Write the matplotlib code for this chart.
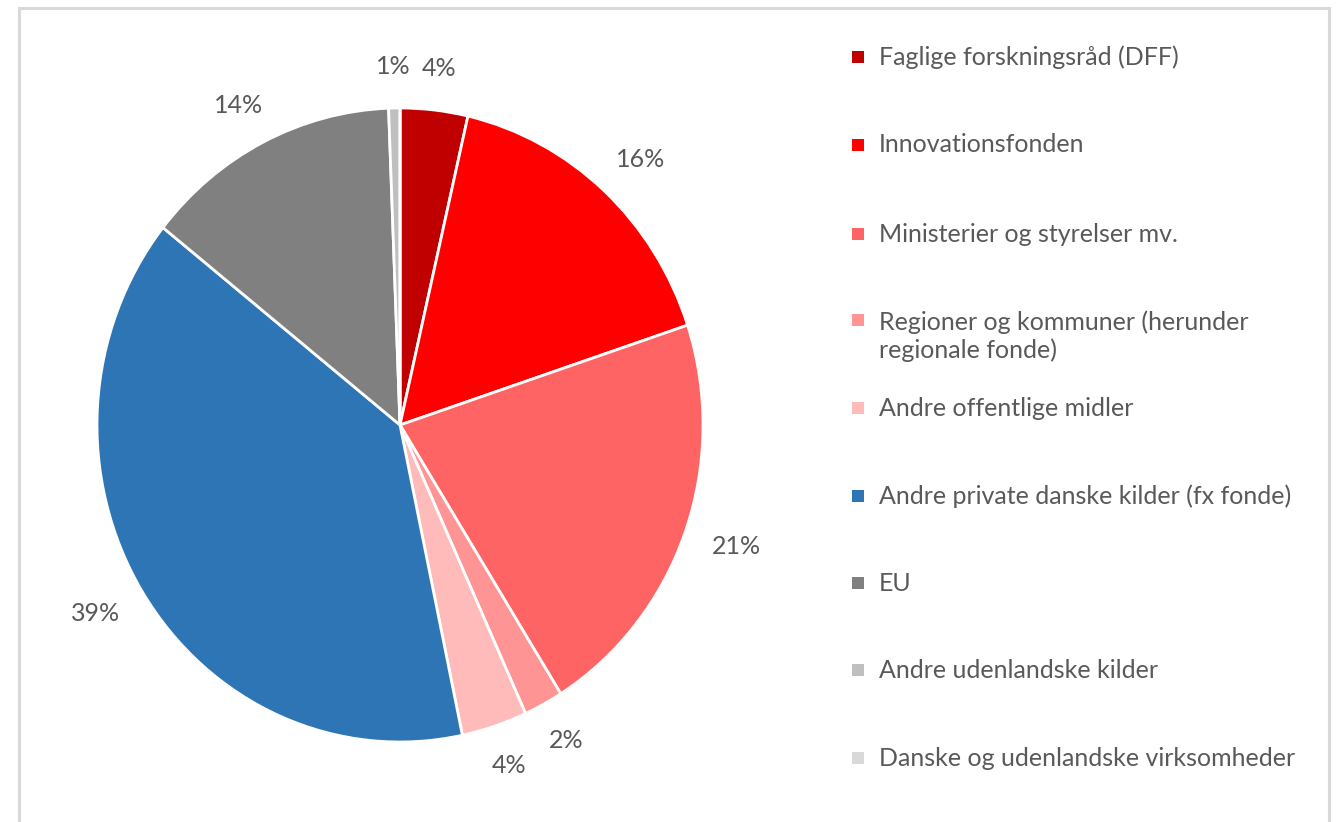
import numpy as np
import matplotlib
matplotlib.use("Agg")
import matplotlib.pyplot as plt
from matplotlib.patches import Rectangle

categories = [
    "Faglige forskningsråd (DFF)",
    "Innovationsfonden",
    "Ministerier og styrelser mv.",
    "Regioner og kommuner (herunder\nregionale fonde)",
    "Andre offentlige midler",
    "Andre private danske kilder (fx fonde)",
    "EU",
    "Andre udenlandske kilder",
    "Danske og udenlandske virksomheder",
]
shares = [3.6, 16.3, 21.2, 2.1, 3.5, 39.0, 13.7, 0.6, 0.0]
colors = ["#C00000", "#FF0000", "#FF6464", "#FF9494", "#FFBABA",
          "#2E75B6", "#808080", "#BFBFBF", "#D9D9D9"]

W, H = 1336, 822
fig = plt.figure(figsize=(W / 100, H / 100), dpi=100)
FONT = "Lato"
TXT = "#595959"
FS = 18

# pie axes (slightly elliptical like the reference)
cx, cy, rx, ry = 400, 425, 303, 317
ax = fig.add_axes([(cx - rx) / W, (H - cy - ry) / H, 2 * rx / W, 2 * ry / H])


def fmt(p):
    return f"{p:.0f}%" if p > 0.05 else ""


wedges, texts, autotexts = ax.pie(
    shares, colors=colors, startangle=90, counterclock=False,
    autopct=fmt, pctdistance=1.16,
    wedgeprops=dict(edgecolor="white", linewidth=2.0),
    textprops=dict(color=TXT, fontsize=FS, family=FONT),
)
ax.set_aspect("auto")
ax.set_xlim(-1, 1)
ax.set_ylim(-1, 1)
ax.axis("off")

# place percentage labels just outside the rim (Excel "outside end" style)
fig.canvas.draw()
renderer = fig.canvas.get_renderer()
gap = 30  # px
for w, t in zip(wedges, autotexts):
    if not t.get_text():
        continue
    th = np.deg2rad((w.theta1 + w.theta2) / 2)
    c, s = np.cos(th), np.sin(th)
    ex, ey = ax.transData.transform((c, s))
    bb = t.get_window_extent(renderer)
    px = ex + c * (gap + bb.width / 2)
    py = ey + s * (gap + bb.height / 2)
    t.set_position(ax.transData.inverted().transform((px, py)))
    t.set_ha("center")
    t.set_va("center")

# legend drawn manually
leg_x_sq = 858
leg_x_txt = 879
leg_y = [57, 145, 234, 336, 408, 496, 583, 670, 758]
for lab, col, y in zip(categories, colors, leg_y):
    ny = lab.count("\n") + 1
    sq_y = y - (ny - 1) * 16
    fig.patches.append(Rectangle(((leg_x_sq - 6) / W, (H - sq_y - 6) / H), 12 / W, 12 / H,
                                 transform=fig.transFigure, facecolor=col,
                                 edgecolor="none"))
    fig.text(leg_x_txt / W, (H - y) / H, lab, ha="left", va="center",
             color=TXT, fontsize=FS, family=FONT, linespacing=1.2)

# frame
fig.patches.append(Rectangle((19 / W, -0.05), (1329 - 19) / W, (H - 8) / H + 0.05,
                             transform=fig.transFigure, facecolor="none",
                             edgecolor="#D9D9D9", linewidth=2.2))

fig.savefig("out.png", dpi=100)
